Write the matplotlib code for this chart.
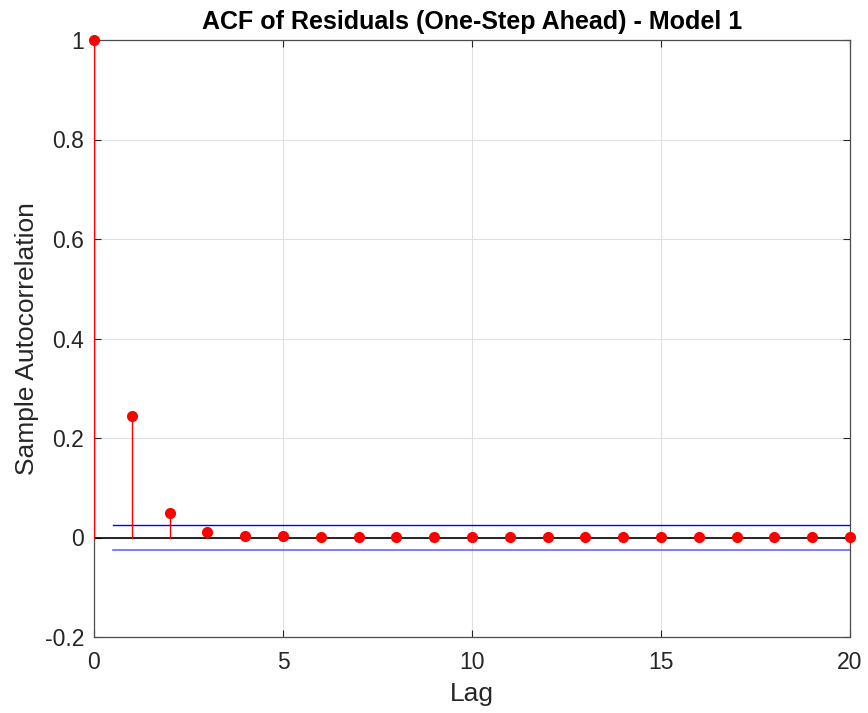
import matplotlib
matplotlib.use("Agg")
import matplotlib.pyplot as plt
import numpy as np

lags = list(range(21))
acf = [1.0, 0.245, 0.050, 0.012, 0.004, 0.003, 0.002, 0.001, 0.001, 0.001, 0.001,
       0.0005, 0.0005, 0.0005, 0.0005, 0.0005, 0.0005, 0.0005, 0.0005, 0.0005, 0.0005]
bound = 0.026
xticks = [0, 5, 10, 15, 20]
yticks = [-0.2, 0, 0.2, 0.4, 0.6, 0.8, 1.0]
yticklabels = ["-0.2", "0", "0.2", "0.4", "0.6", "0.8", "1"]

plt.rcParams['font.family'] = ['Liberation Sans', 'DejaVu Sans']
fig = plt.figure(figsize=(8.68, 7.13), dpi=100)
ax = fig.add_axes([94/868, 76/713, 756/868, 597/713])

ax.axhline(0, color='black', lw=1.2, zorder=2)
for l, v in zip(lags, acf):
    ax.plot([l, l], [0, v], color='red', lw=1.0, zorder=3)
ax.plot(lags, acf, 'o', color='red', ms=7, zorder=4, clip_on=False)
ax.plot([0.5, 20], [bound, bound], color='blue', lw=1.0, zorder=2)
ax.plot([0.5, 20], [-bound, -bound], color='#6666ff', lw=1.2, zorder=2)

ax.set_xlim(0, 20)
ax.set_ylim(-0.2, 1)
ax.set_xticks(xticks)
ax.set_yticks(yticks)
ax.set_yticklabels(yticklabels)
ax.grid(True, color='#e0e0e0', lw=0.8)
ax.set_axisbelow(True)
ax.tick_params(direction='in', length=5, labelsize=16.5, colors='#262626', top=True, right=True)
ax.tick_params(axis='x', pad=10)
ax.tick_params(axis='y', pad=7)
for s in ax.spines.values():
    s.set_color('#4d4d4d')
    s.set_linewidth(0.9)
ax.set_xlabel('Lag', fontsize=19, color='#262626', labelpad=6)
ax.set_ylabel('Sample Autocorrelation', fontsize=19, color='#262626', labelpad=4)
ax.set_title('ACF of Residuals (One-Step Ahead) - Model 1', fontsize=18, fontweight='bold', pad=8)

fig.savefig('out.png', dpi=100)
